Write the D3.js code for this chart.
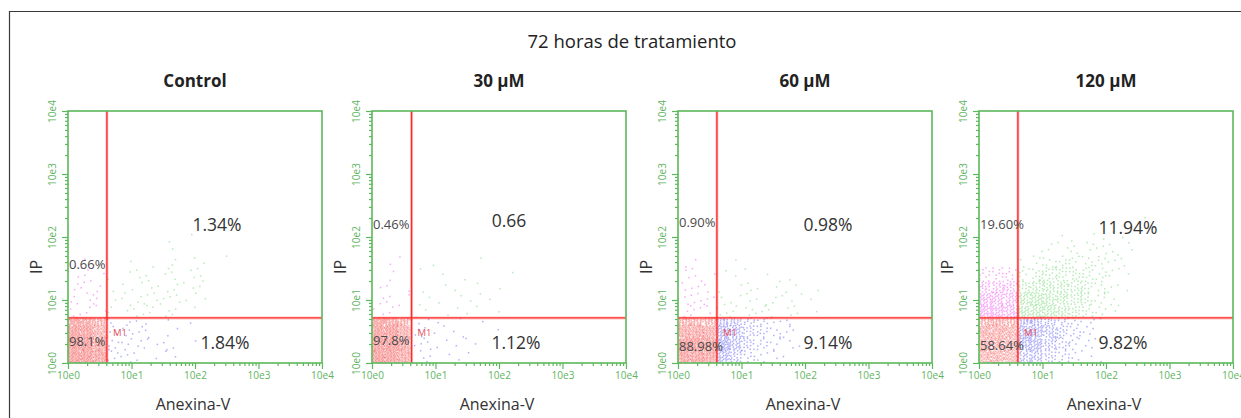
<!DOCTYPE html>
<html><head><meta charset="utf-8">
<script src="https://cdn.jsdelivr.net/npm/d3@7"></script>
<style>
html,body{margin:0;padding:0;background:#fff;}
svg{display:block;font-family:"Open Sans",sans-serif;}
</style></head><body>
<svg id="chart" width="1241" height="418"></svg>
<script>
// ---- data ----
const title = "72 horas de tratamiento";
const categories = ["Control", "30 µM", "60 µM", "120 µM"];
const xAxisTitle = "Anexina-V";
const yAxisTitle = "IP";
const decades = [1, 10, 100, 1000, 10000];
const tickLabels = ["10e0", "10e1", "10e2", "10e3", "10e4"];
// quadrant gates (fluorescence units)
const gateX = [4.1, 4.2, 4.1, 4.1];
const gateY = [5.2, 5.2, 5.2, 5.2];
// quadrant percentages
const pctUL = ["0.66%", "0.46%", "0.90%", "19.60%"];
const pctUR = ["1.34%", "0.66", "0.98%", "11.94%"];
const pctLL = ["98.1%", "97.8%", "88.98%", "58.64%"];
const pctLR = ["1.84%", "1.12%", "9.14%", "9.82%"];
const markerName = "M1";
// event counts per 0.2-decade bin, rows from the quadrant's lower edge upward,
// columns from the quadrant's left edge rightward
const countsLL = [
  [[90,90,80],[90,90,75],[85,85,60],[45,40,30]],
  [[90,85,70],[90,90,75],[85,85,65],[45,40,30]],
  [[80,80,75],[85,85,80],[70,70,65],[30,30,28]],
  [[55,55,50],[60,60,55],[60,60,55],[30,30,28]]
];
const countsUL = [
  [[3,2,2],[3,3,2],[2,3,2],[2,3,1],[1,1,0]],
  [[2,2,1],[2,2,1],[1,2,1],[0,1,0],[0,1,1]],
  [[3,3,2],[3,4,3],[2,3,2],[2,2,1],[1,1,0]],
  [[34,34,30],[30,30,26],[22,22,18],[9,9,7]]
];
const countsUR = [
  [[2,2,3,3,2,2,1,0,0,0,0],[1,2,3,3,3,2,2,1,0,0,0],[1,1,2,2,2,2,2,2,0,0,0],
   [1,1,2,1,2,2,2,2,0,0,0],[0,1,0,1,0,2,1,1,0,1,0],[0,0,0,0,0,1,0,0,0,0,0],[0,0,0,0,1,0,1,0,0,0,0]],
  [[1,1,1,1,1,1,1,0,0],[1,1,1,1,1,1,1,0,0],[1,0,1,1,0,1,1,0,0],[1,0,1,0,1,0,0,1,0],[0,1,0,0,0,1,0,0,0]],
  [[3,3,3,3,2,2,2,1,0],[2,2,2,2,2,2,1,1,0],[1,1,2,1,2,1,1,1,0],[1,1,1,1,0,1,0,0,0],[0,1,0,0,0,0,0,0,0]],
  [[30,30,26,22,15,9,4,2,0,0,0],[26,28,26,22,16,11,5,2,0,0,0],[15,20,20,18,15,11,6,3,1,0,0],
   [6,10,12,12,10,9,6,3,1,0,0],[2,4,5,6,6,6,5,3,2,0,0],[0,1,2,2,3,3,3,2,2,0,0],
   [0,0,0,1,1,1,1,1,1,0,0],[0,0,0,0,0,0,0,0,0,0,1]]
];
const countsLR = [
  [[4,3,2,1,1,1,0,0],[5,4,3,2,2,1,1,0],[4,3,3,2,1,1,0,0],[2,2,1,1,1,0,1,0]],
  [[2,2,1,1,1,0,0],[3,2,2,1,1,1,0],[3,2,1,1,1,0,1],[1,1,1,1,0,1,0]],
  [[35,20,8,4,2,1,0],[45,30,15,8,4,2,1],[40,30,15,10,5,3,1],[18,14,8,6,3,2,0]],
  [[25,25,15,8,4,2,1],[35,35,20,12,6,3,1],[35,35,25,15,8,4,1],[18,18,12,8,4,2,1]]
];

// ---- layout ----
const PANEL_LEFT = [68, 372, 678, 979];
const PLOT_TOP = 111, PLOT_W = 254, PLOT_H = 252;
const BIN = 0.2; // decades
const LBL = {
  urX: [149, 137, 150, 149], urY: [224, 220, 224, 227],
  lrX: [157, 144, 150, 144], lrY: [342, 342, 342, 342],
  ulY: [264, 224, 222, 224], llY: [341, 340, 346, 345]
};
const DOT = {
  LL: { fill: "#f25050", opacity: 0.42 },
  UL: { fill: "#f055f0", opacity: 0.5 },
  UR: { fill: "#5fd05f", opacity: 0.45 },
  LR: { fill: "#6464f2", opacity: 0.5 }
};
const GREEN = "#5cb85c", TICKTXT = "#5fb45f";

const svg = d3.select("#chart");

// outer frame
svg.append("path").attr("d", "M9.5,418 V11.5 H1241")
  .attr("fill", "none").attr("stroke", "#3a3a3a").attr("stroke-width", 1.2);

svg.append("text").attr("x", 632).attr("y", 40)
  .attr("text-anchor", "middle").attr("dominant-baseline", "central")
  .attr("font-size", 18.5).attr("fill", "#222").text(title);

// low-discrepancy placement of events inside a bin
const A1 = 0.7548776662, A2 = 0.5698402910;
const frac = v => v - Math.floor(v);

categories.forEach((name, i) => {
  const left = PANEL_LEFT[i];
  const g = svg.append("g").attr("transform", `translate(${left},${PLOT_TOP})`);
  const x = d3.scaleLog().domain([1, 1e4]).range([0, PLOT_W]);
  const y = d3.scaleLog().domain([1, 1e4]).range([PLOT_H, 0]);
  const gx = Math.log10(gateX[i]), gy = Math.log10(gateY[i]);

  const quads = [
    { key: "LL", grid: countsLL[i], x0: 0, x1: gx, y0: 0, y1: gy },
    { key: "UL", grid: countsUL[i], x0: 0, x1: gx, y0: gy, y1: 4 },
    { key: "LR", grid: countsLR[i], x0: gx, x1: 4, y0: 0, y1: gy },
    { key: "UR", grid: countsUR[i], x0: gx, x1: 4, y0: gy, y1: 4 }
  ];

  let seq = i * 97;
  quads.forEach(q => {
    const events = [];
    q.grid.forEach((row, r) => {
      row.forEach((n, c) => {
        const bx0 = q.x0 + c * BIN, bx1 = Math.min(q.x0 + (c + 1) * BIN, q.x1);
        const by0 = q.y0 + r * BIN, by1 = Math.min(q.y0 + (r + 1) * BIN, q.y1);
        for (let k = 0; k < n; k++) {
          seq++;
          const lx = bx0 + frac(0.5 + seq * A1) * (bx1 - bx0);
          const ly = by0 + frac(0.5 + seq * A2) * (by1 - by0);
          events.push([Math.pow(10, lx), Math.pow(10, ly)]);
        }
      });
    });
    g.append("g").selectAll("rect").data(events).join("rect")
      .attr("x", d => x(d[0]) - 0.75).attr("y", d => y(d[1]) - 0.75)
      .attr("width", 1.5).attr("height", 1.5)
      .attr("fill", DOT[q.key].fill).attr("opacity", DOT[q.key].opacity);
  });

  // axes: major + minor log ticks
  const minors = [];
  decades.slice(0, -1).forEach(d => { for (let m = 2; m <= 9; m++) minors.push(d * m); });

  const xMajor = g.append("g").attr("transform", `translate(0,${PLOT_H})`)
    .call(d3.axisBottom(x).tickValues(decades).tickSize(6).tickPadding(3)
      .tickFormat((d, j) => tickLabels[j]));
  const xMinor = g.append("g").attr("transform", `translate(0,${PLOT_H})`)
    .call(d3.axisBottom(x).tickValues(minors).tickSize(3).tickFormat(""));
  const yMajor = g.append("g")
    .call(d3.axisLeft(y).tickValues(decades).tickSize(6).tickFormat((d, j) => tickLabels[j]));
  const yMinor = g.append("g")
    .call(d3.axisLeft(y).tickValues(minors).tickSize(3).tickFormat(""));
  [xMajor, xMinor, yMajor, yMinor].forEach(a => {
    a.select(".domain").remove();
    a.selectAll("line").attr("stroke", GREEN).attr("stroke-width", 1.2);
    a.selectAll("text").attr("fill", TICKTXT).attr("font-size", 10)
      .attr("font-family", "Open Sans, sans-serif");
  });
  yMajor.selectAll("text")
    .attr("transform", "rotate(-90)").attr("x", 0).attr("y", -12).attr("dy", 0)
    .attr("text-anchor", "middle");

  // gate lines
  [[3, 0.25], [1.4, 1]].forEach(([w, o]) => {
    g.append("line").attr("x1", 0).attr("x2", PLOT_W).attr("y1", y(gateY[i])).attr("y2", y(gateY[i]))
      .attr("stroke", "#ff2b2b").attr("stroke-width", w).attr("opacity", o);
    g.append("line").attr("x1", x(gateX[i])).attr("x2", x(gateX[i])).attr("y1", 0).attr("y2", PLOT_H)
      .attr("stroke", "#ff2b2b").attr("stroke-width", w).attr("opacity", o);
  });

  // plot frame
  g.append("rect").attr("x", 0).attr("y", 0).attr("width", PLOT_W).attr("height", PLOT_H)
    .attr("fill", "none").attr("stroke", GREEN).attr("stroke-width", 1.6);

  // marker label
  g.append("text").attr("x", x(gateX[i]) + 6).attr("y", y(gateY[i]) + 15)
    .attr("dominant-baseline", "central").attr("font-size", 9.5).attr("fill", "#e25060")
    .text(markerName);

  // quadrant percentages
  const small = (txt, yy) => g.append("text").attr("x", 1).attr("y", yy - PLOT_TOP)
    .attr("dominant-baseline", "central").attr("font-size", 13).attr("fill", "#4a4a4a").text(txt);
  small(pctUL[i], LBL.ulY[i]);
  small(pctLL[i], LBL.llY[i]);
  const big = (txt, xx, yy) => g.append("text").attr("x", xx).attr("y", yy - PLOT_TOP)
    .attr("text-anchor", "middle").attr("dominant-baseline", "central")
    .attr("font-size", 17.5).attr("fill", "#333").text(txt);
  big(pctUR[i], LBL.urX[i], LBL.urY[i]);
  big(pctLR[i], LBL.lrX[i], LBL.lrY[i]);

  // titles
  g.append("text").attr("x", PLOT_W / 2).attr("y", 80 - PLOT_TOP)
    .attr("text-anchor", "middle").attr("dominant-baseline", "central")
    .attr("font-size", 17).attr("font-weight", "bold").attr("fill", "#222").text(name);
  g.append("text").attr("x", PLOT_W / 2 - 2).attr("y", 404 - PLOT_TOP)
    .attr("text-anchor", "middle").attr("dominant-baseline", "central")
    .attr("font-size", 16).attr("fill", "#333").text(xAxisTitle);
  g.append("text").attr("transform", `translate(-32,${267 - PLOT_TOP}) rotate(-90)`)
    .attr("text-anchor", "middle").attr("dominant-baseline", "central")
    .attr("font-size", 16).attr("fill", "#333").text(yAxisTitle);
});
</script>
</body></html>
